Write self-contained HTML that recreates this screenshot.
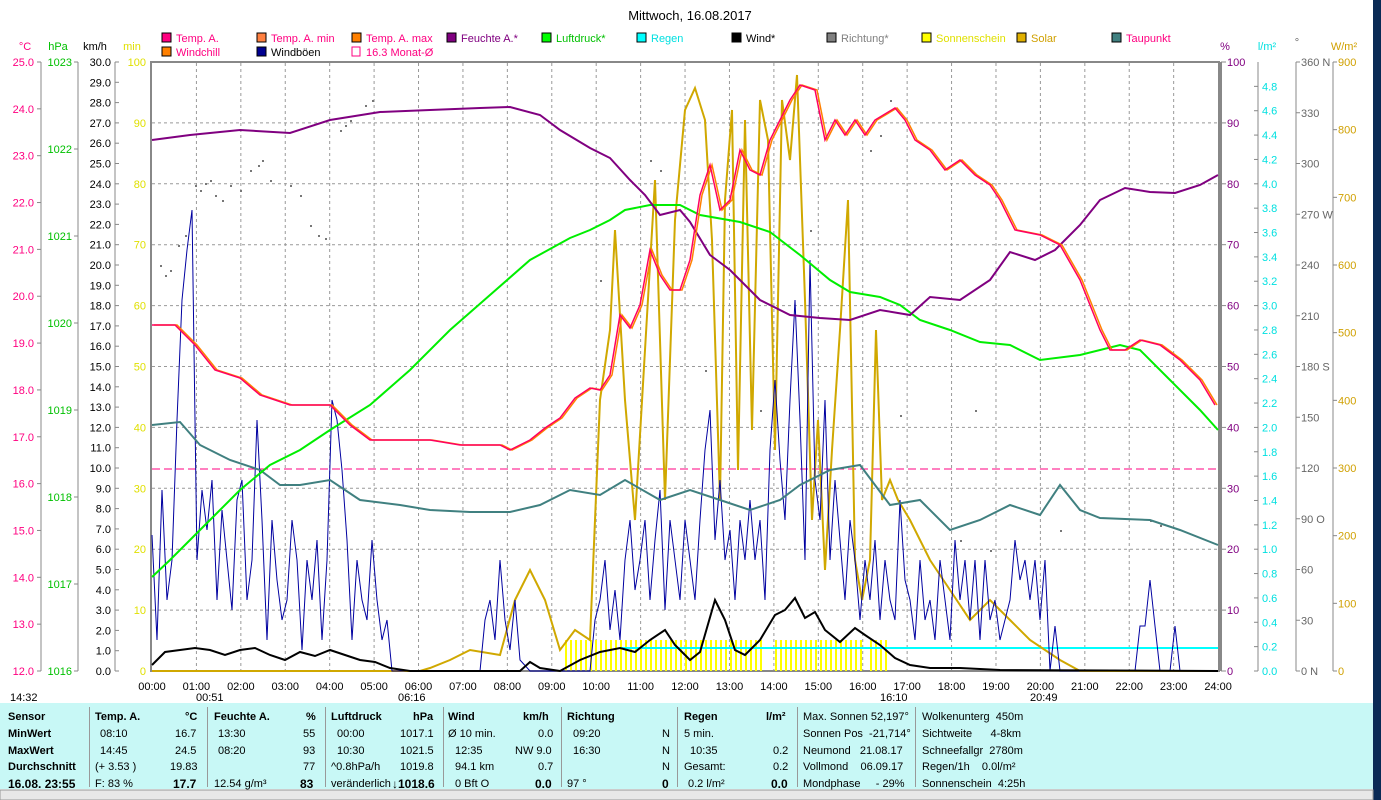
<!DOCTYPE html>
<html><head><meta charset="utf-8"><style>
body{margin:0;width:1381px;height:800px;overflow:hidden;background:#fff;font-family:"Liberation Sans",sans-serif;position:relative}
svg{position:absolute;left:0;top:0}
.tb{position:absolute;left:0;top:703px;width:1373px;height:86px;background:#c8f8f6;font-size:11px}
.c{position:absolute;top:4px;height:80px;border-left:1px solid #999}
.r{position:absolute;white-space:nowrap}
.b{font-weight:bold}
</style></head><body>
<svg width="1381" height="800" font-family="Liberation Sans, sans-serif" font-size="11">
<rect x="1373" y="0" width="8" height="800" fill="#0a2a55"/>
<text x="690" y="20" font-size="13" text-anchor="middle">Mittwoch, 16.08.2017</text>
<g font-size="11">
<rect x="162" y="33" width="9" height="9" fill="#ff0080" stroke="#000"/><text x="176" y="42" fill="#ff0080">Temp. A.</text>
<rect x="257" y="33" width="9" height="9" fill="#ff8040" stroke="#000"/><text x="271" y="42" fill="#ff0080">Temp. A. min</text>
<rect x="352" y="33" width="9" height="9" fill="#ff8000" stroke="#000"/><text x="366" y="42" fill="#ff0080">Temp. A. max</text>
<rect x="447" y="33" width="9" height="9" fill="#800080" stroke="#000"/><text x="461" y="42" fill="#800080">Feuchte A.*</text>
<rect x="542" y="33" width="9" height="9" fill="#00ff00" stroke="#000"/><text x="556" y="42" fill="#00c000">Luftdruck*</text>
<rect x="637" y="33" width="9" height="9" fill="#00ffff" stroke="#000"/><text x="651" y="42" fill="#00e0e0">Regen</text>
<rect x="732" y="33" width="9" height="9" fill="#000" stroke="#000"/><text x="746" y="42">Wind*</text>
<rect x="827" y="33" width="9" height="9" fill="#808080" stroke="#000"/><text x="841" y="42" fill="#808080">Richtung*</text>
<rect x="922" y="33" width="9" height="9" fill="#ffff00" stroke="#000"/><text x="936" y="42" fill="#e0e000">Sonnenschein</text>
<rect x="1017" y="33" width="9" height="9" fill="#e0b000" stroke="#000"/><text x="1031" y="42" fill="#d0a000">Solar</text>
<rect x="1112" y="33" width="9" height="9" fill="#408080" stroke="#000"/><text x="1126" y="42" fill="#ff0080">Taupunkt</text>
<rect x="162" y="47" width="9" height="9" fill="#ff8000" stroke="#000"/><text x="176" y="56" fill="#ff0080">Windchill</text>
<rect x="257" y="47" width="9" height="9" fill="#000090" stroke="#000"/><text x="271" y="56">Windböen</text>
<rect x="352" y="47" width="8" height="9" fill="none" stroke="#ff0080"/><text x="366" y="56" fill="#ff0080">16.3 Monat-Ø</text>
</g>
<text x="25" y="50" fill="#ff0080" text-anchor="middle">°C</text>
<text x="58" y="50" fill="#00c000" text-anchor="middle">hPa</text>
<text x="95" y="50" text-anchor="middle">km/h</text>
<text x="132" y="50" fill="#e0e000" text-anchor="middle">min</text>
<text x="1225" y="50" fill="#800080" text-anchor="middle">%</text>
<text x="1267" y="50" fill="#00e0e0" text-anchor="middle">l/m²</text>
<text x="1297" y="46" fill="#666" text-anchor="middle">°</text>
<text x="1344" y="50" fill="#d0a000" text-anchor="middle">W/m²</text>
<g stroke="#888" stroke-width="1">
<line x1="41" y1="62" x2="41" y2="671"/><line x1="78" y1="62" x2="78" y2="671"/><line x1="115" y1="62" x2="115" y2="671"/>
<line x1="1258" y1="62" x2="1258" y2="671"/><line x1="1296" y1="62" x2="1296" y2="671"/><line x1="1333" y1="62" x2="1333" y2="671"/>
</g>
<g id="ax"></g>
<rect x="151" y="62" width="1068" height="609" fill="none" stroke="#888" stroke-width="2"/>
<line x1="1221" y1="62" x2="1221" y2="671" stroke="#888" stroke-width="2"/>
<g id="grid" stroke="#999" stroke-dasharray="3,3" stroke-width="1"></g>
<g id="dots" fill="#777"></g>
<line x1="152" y1="469" x2="1218" y2="469" stroke="#ff0080" stroke-dasharray="8,4"/>
<g id="sun" fill="#ffff00"></g>
<polyline fill="none" stroke="#00ffff" stroke-width="2" points="620,648 1218,648"/>
<polyline fill="none" stroke="#d0a800" stroke-width="2" points="152,671 420,671 430,668 450,660 470,650 500,655 515,600 530,570 545,600 560,650 575,630 590,640 600,400 610,330 615,230 625,400 635,520 645,350 655,180 665,500 675,220 685,110 695,88 705,120 712,240 720,500 725,200 732,110 738,470 745,120 752,430 760,100 768,140 775,450 782,100 790,160 797,75 805,300 812,520 818,420 825,570 832,450 840,330 848,200 855,560 862,600 870,560 876,330 882,500 890,480 898,500 910,520 930,560 950,590 970,620 990,600 1010,620 1030,640 1060,660 1080,671 1218,671"/>
<polyline fill="none" stroke="#0000a0" stroke-width="1" points="152,535 157,640 162,490 167,600 172,560 177,420 182,300 187,250 192,210 197,560 202,490 207,530 212,480 217,600 222,510 227,560 232,610 237,500 242,480 247,600 252,560 257,420 262,520 267,640 272,520 277,580 282,620 287,600 292,520 297,560 302,650 307,560 312,600 317,540 322,640 327,560 332,400 337,420 342,470 347,540 352,640 357,560 362,600 367,620 372,540 377,600 382,640 387,620 392,671 410,671 480,671 485,620 490,600 495,640 500,560 505,620 510,650 515,600 520,660 530,671 590,671 595,620 600,600 605,560 610,630 615,590 620,640 625,560 630,520 635,590 640,560 645,520 650,600 655,540 660,490 665,610 670,520 675,560 680,600 685,520 690,560 695,600 700,520 705,450 710,410 715,540 720,480 725,560 730,530 735,600 740,520 745,560 750,500 755,560 760,520 765,600 770,450 775,380 780,460 785,520 790,400 795,300 800,420 805,560 810,260 815,480 820,520 825,400 830,560 835,480 840,540 845,600 850,520 855,560 860,620 865,560 870,600 875,540 880,620 885,560 890,600 895,620 900,500 905,580 910,600 915,640 920,560 925,620 930,600 935,640 940,560 945,600 950,640 955,540 960,600 965,560 970,620 975,560 980,640 985,560 990,620 995,600 1000,640 1005,620 1010,600 1015,540 1020,580 1025,560 1030,600 1035,560 1040,620 1045,560 1050,671 1055,626 1060,671 1135,671 1140,626 1145,626 1150,580 1155,626 1160,671 1170,671 1175,626 1180,671 1218,671"/>
<polyline fill="none" stroke="#000" stroke-width="2" points="152,665 165,652 180,650 195,648 210,650 225,655 240,650 255,648 270,655 285,660 300,652 315,656 330,650 345,655 360,660 375,662 390,668 410,671 520,671 530,662 540,668 560,671 580,660 600,652 620,648 635,652 650,640 665,630 675,645 690,660 700,652 715,600 725,620 735,650 745,655 760,640 775,615 785,610 795,598 805,618 815,612 825,630 840,642 855,628 865,635 880,645 895,658 910,665 930,668 960,668 1000,670 1218,671"/>
<polyline fill="none" stroke="#408080" stroke-width="2" points="152,425 180,422 200,445 230,460 260,470 280,485 300,485 330,480 360,500 400,505 430,510 470,512 510,512 540,505 570,490 600,495 625,480 660,500 690,490 720,500 750,510 780,500 800,485 830,470 860,465 890,505 920,500 950,530 980,520 1010,505 1040,515 1060,485 1080,510 1100,518 1150,520 1180,530 1218,545"/>
<polyline fill="none" stroke="#00ee00" stroke-width="2" points="152,577 170,560 190,540 215,515 240,490 270,465 300,450 330,430 370,405 410,370 450,330 490,295 530,260 570,238 590,230 610,220 625,210 650,205 680,205 700,215 740,222 770,232 800,255 830,280 850,292 880,297 900,305 920,320 950,330 980,342 1010,345 1040,360 1080,355 1120,345 1140,350 1170,380 1200,410 1218,430"/>
<polyline fill="none" stroke="#800080" stroke-width="2" points="152,140 190,135 240,130 290,133 330,120 380,112 430,110 480,108 510,107 540,115 560,130 590,148 610,158 630,180 645,195 660,215 680,210 690,222 710,255 730,270 760,300 790,315 820,318 850,320 880,310 910,315 930,297 960,300 990,280 1010,252 1035,260 1055,250 1080,225 1100,200 1125,188 1150,192 1175,193 1200,185 1218,175"/>
<polyline fill="none" stroke="#ff8000" stroke-width="1.5" transform="translate(2,0)" points="152,325 175,325 195,345 215,370 240,378 260,395 290,405 330,405 350,425 370,440 430,440 460,445 500,445 510,450 530,440 545,428 560,418 575,398 590,388 600,390 610,375 620,315 630,328 640,305 650,250 660,275 670,290 680,290 690,260 700,195 710,165 720,210 730,200 740,150 750,170 760,175 770,140 780,120 790,100 800,85 815,90 825,140 835,120 845,135 855,120 865,135 875,120 895,108 905,120 915,140 930,150 945,170 960,160 975,175 990,185 1000,200 1015,230 1040,235 1060,245 1080,280 1100,330 1110,350 1125,350 1140,340 1160,345 1180,360 1200,380 1215,405"/>
<polyline fill="none" stroke="#ff0060" stroke-width="1.5" points="152,325 175,325 195,345 215,370 240,378 260,395 290,405 330,405 350,425 370,440 430,440 460,445 500,445 510,450 530,440 545,428 560,418 575,398 590,388 600,390 610,375 620,315 630,328 640,305 650,250 660,275 670,290 680,290 690,260 700,195 710,165 720,210 730,200 740,150 750,170 760,175 770,140 780,120 790,100 800,85 815,90 825,140 835,120 845,135 855,120 865,135 875,120 895,108 905,120 915,140 930,150 945,170 960,160 975,175 990,185 1000,200 1015,230 1040,235 1060,245 1080,280 1100,330 1110,350 1125,350 1140,340 1160,345 1180,360 1200,380 1215,405"/>
<g id="tl" text-anchor="middle"></g>
<text x="10" y="701">14:32</text><text x="196" y="701">00:51</text><text x="398" y="701">06:16</text><text x="880" y="701">16:10</text><text x="1030" y="701">20:49</text>
<rect x="0" y="790" width="1373" height="10" fill="#e8e8e8" stroke="#999"/>
</svg>
<div class="tb">
<div class="c" style="left:89px"></div><div class="c" style="left:207px"></div><div class="c" style="left:325px"></div><div class="c" style="left:443px"></div><div class="c" style="left:561px"></div><div class="c" style="left:677px"></div><div class="c" style="left:797px"></div><div class="c" style="left:915px"></div>
<div class="r b" style="left:8px;top:8px">Sensor</div><div class="r b" style="left:8px;top:25px">MinWert</div><div class="r b" style="left:8px;top:42px">MaxWert</div><div class="r b" style="left:8px;top:58px">Durchschnitt</div><div class="r b" style="left:8px;top:74px;font-size:12px">16.08. 23:55</div>
<div class="r b" style="left:95px;top:8px">Temp. A.</div><div class="r b" style="left:185px;top:8px">°C</div>
<div class="r" style="left:100px;top:25px">08:10</div><div class="r" style="left:175px;top:25px">16.7</div>
<div class="r" style="left:100px;top:42px">14:45</div><div class="r" style="left:175px;top:42px">24.5</div>
<div class="r" style="left:95px;top:58px">(+ 3.53 )</div><div class="r" style="left:170px;top:58px">19.83</div>
<div class="r" style="left:95px;top:75px">F: 83 %</div><div class="r b" style="left:173px;top:74px;font-size:12px">17.7</div>
<div class="r b" style="left:214px;top:8px">Feuchte A.</div><div class="r b" style="left:306px;top:8px">%</div>
<div class="r" style="left:218px;top:25px">13:30</div><div class="r" style="left:303px;top:25px">55</div>
<div class="r" style="left:218px;top:42px">08:20</div><div class="r" style="left:303px;top:42px">93</div>
<div class="r" style="left:303px;top:58px">77</div>
<div class="r" style="left:214px;top:75px">12.54 g/m³</div><div class="r b" style="left:300px;top:74px;font-size:12px">83</div>
<div class="r b" style="left:331px;top:8px">Luftdruck</div><div class="r b" style="left:413px;top:8px">hPa</div>
<div class="r" style="left:337px;top:25px">00:00</div><div class="r" style="left:400px;top:25px">1017.1</div>
<div class="r" style="left:337px;top:42px">10:30</div><div class="r" style="left:400px;top:42px">1021.5</div>
<div class="r" style="left:331px;top:58px">^0.8hPa/h</div><div class="r" style="left:400px;top:58px">1019.8</div>
<div class="r" style="left:331px;top:75px">veränderlich</div><div class="r b" style="left:392px;top:74px;font-size:12px">↓1018.6</div>
<div class="r b" style="left:448px;top:8px">Wind</div><div class="r b" style="left:523px;top:8px">km/h</div>
<div class="r" style="left:448px;top:25px">Ø 10 min.</div><div class="r" style="left:538px;top:25px">0.0</div>
<div class="r" style="left:455px;top:42px">12:35</div><div class="r" style="left:515px;top:42px">NW 9.0</div>
<div class="r" style="left:455px;top:58px">94.1 km</div><div class="r" style="left:538px;top:58px">0.7</div>
<div class="r" style="left:455px;top:75px">0 Bft O</div><div class="r b" style="left:535px;top:74px;font-size:12px">0.0</div>
<div class="r b" style="left:567px;top:8px">Richtung</div>
<div class="r" style="left:573px;top:25px">09:20</div><div class="r" style="left:662px;top:25px">N</div>
<div class="r" style="left:573px;top:42px">16:30</div><div class="r" style="left:662px;top:42px">N</div>
<div class="r" style="left:662px;top:58px">N</div>
<div class="r" style="left:567px;top:75px">97 °</div><div class="r b" style="left:662px;top:74px;font-size:12px">0</div>
<div class="r b" style="left:684px;top:8px">Regen</div><div class="r b" style="left:766px;top:8px">l/m²</div>
<div class="r" style="left:684px;top:25px">5 min.</div>
<div class="r" style="left:690px;top:42px">10:35</div><div class="r" style="left:773px;top:42px">0.2</div>
<div class="r" style="left:684px;top:58px">Gesamt:</div><div class="r" style="left:773px;top:58px">0.2</div>
<div class="r" style="left:688px;top:75px">0.2 l/m²</div><div class="r b" style="left:771px;top:74px;font-size:12px">0.0</div>
<div class="r" style="left:803px;top:8px">Max. Sonnen 52,197°</div>
<div class="r" style="left:803px;top:25px">Sonnen Pos &nbsp;-21,714°</div>
<div class="r" style="left:803px;top:42px">Neumond &nbsp;&nbsp;21.08.17</div>
<div class="r" style="left:803px;top:58px">Vollmond &nbsp;&nbsp;&nbsp;06.09.17</div>
<div class="r" style="left:803px;top:75px">Mondphase &nbsp;&nbsp;&nbsp;&nbsp;- 29%</div>
<div class="r" style="left:922px;top:8px">Wolkenunterg &nbsp;450m</div>
<div class="r" style="left:922px;top:25px">Sichtweite &nbsp;&nbsp;&nbsp;&nbsp;&nbsp;4-8km</div>
<div class="r" style="left:922px;top:42px">Schneefallgr &nbsp;2780m</div>
<div class="r" style="left:922px;top:58px">Regen/1h &nbsp;&nbsp;&nbsp;0.0l/m²</div>
<div class="r" style="left:922px;top:75px">Sonnenschein &nbsp;4:25h</div>
</div>
<script>
var NS="http://www.w3.org/2000/svg";
function el(p,t,a,txt){var e=document.createElementNS(NS,t);for(var k in a)e.setAttribute(k,a[k]);if(txt!=null)e.textContent=txt;p.appendChild(e);return e;}
var ax=document.getElementById("ax"),g=document.getElementById("grid"),tl=document.getElementById("tl"),sun=document.getElementById("sun"),dots=document.getElementById("dots");
var T=62,B=671,H=B-T;
function y(v,mn,mx){return B-(v-mn)/(mx-mn)*H;}
for(var v=12;v<=25;v++){var yy=y(v,12,25);el(ax,"line",{x1:37,x2:41,y1:yy,y2:yy,stroke:"#888"});el(ax,"text",{x:34,y:yy+4,"text-anchor":"end",fill:"#ff0080"},v.toFixed(1));}
for(var v=1016;v<=1023;v++){var yy=y(v,1016,1023);el(ax,"line",{x1:74,x2:78,y1:yy,y2:yy,stroke:"#888"});el(ax,"text",{x:72,y:yy+4,"text-anchor":"end",fill:"#00c000"},v);}
for(var v=0;v<=30;v++){var yy=y(v,0,30);el(ax,"line",{x1:115,x2:119,y1:yy,y2:yy,stroke:"#888"});el(ax,"text",{x:111,y:yy+4,"text-anchor":"end"},v.toFixed(1));}
for(var v=0;v<=100;v+=10){var yy=y(v,0,100);el(ax,"text",{x:146,y:yy+4,"text-anchor":"end",fill:"#e0e000"},v);el(ax,"line",{x1:1221,x2:1226,y1:yy,y2:yy,stroke:"#888"});el(ax,"text",{x:1227,y:yy+4,fill:"#800080"},v);
 if(v>0&&v<100)el(g,"line",{x1:152,x2:1218,y1:yy,y2:yy});}
for(var v=0;v<=24;v++){var yy=y(v*0.2,0,5);el(ax,"line",{x1:1254,x2:1258,y1:yy,y2:yy,stroke:"#888"});el(ax,"text",{x:1262,y:yy+4,fill:"#00e0e0"},(v*0.2).toFixed(1));}
var dn={0:" N",90:" O",180:" S",270:" W",360:" N"};
for(var v=0;v<=360;v+=30){var yy=y(v,0,360);el(ax,"line",{x1:1296,x2:1300,y1:yy,y2:yy,stroke:"#888"});el(ax,"text",{x:1301,y:yy+4,fill:"#666"},v+(dn[v]||""));}
for(var v=0;v<=900;v+=100){var yy=y(v,0,900);el(ax,"line",{x1:1333,x2:1337,y1:yy,y2:yy,stroke:"#888"});el(ax,"text",{x:1338,y:yy+4,fill:"#d0a000"},v);}
for(var h=0;h<=24;h++){var xx=152+h*44.42;if(h>0&&h<24)el(g,"line",{x1:xx,x2:xx,y1:63,y2:670});el(tl,"text",{x:xx,y:690},(h<10?"0":"")+h+":00");}
var s=565;while(s<890){if(!(s>760&&s<775)&&!(s>860&&s<870))el(sun,"rect",{x:s,y:640,width:2,height:31});s+=5;}
var dp=[[160,265],[165,275],[170,270],[178,245],[185,235],[195,185],[200,190],[205,183],[210,180],[215,195],[222,200],[230,185],[240,190],[250,170],[258,165],[262,160],[270,180],[290,185],[300,195],[310,225],[318,235],[325,238],[340,130],[345,125],[350,120],[365,105],[372,100],[600,280],[650,160],[660,170],[705,370],[760,410],[810,230],[870,150],[880,135],[890,100],[900,415],[960,540],[975,410],[990,550],[1060,530],[1150,520],[1160,525]];
dp.forEach(function(p){el(dots,"rect",{x:p[0],y:p[1],width:2,height:2});});
</script>
</body></html>
